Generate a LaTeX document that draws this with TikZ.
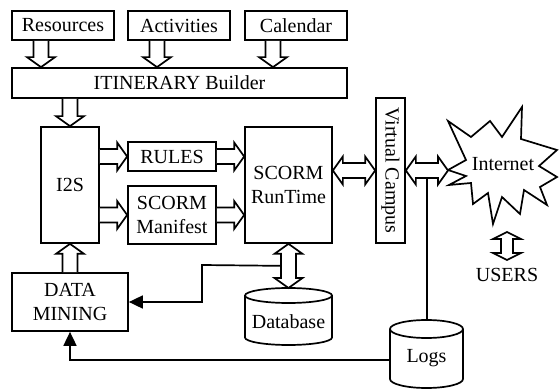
\documentclass[tikz,border=0pt]{standalone}
\usepackage{fontspec}
\setmainfont{Liberation Serif}
\usetikzlibrary{calc,arrows.meta}
\newcommand\fs{\fontsize{20pt}{24pt}\selectfont}
\def\sw{7.5pt}\def\hw{14pt}\def\hl{10pt}
\newcommand\sarrow[2]{%
  \coordinate (bah) at ($(#2)!\hl!(#1)$);
  \draw[blk] ($(#1)!\sw!90:(#2)$) -- ($(bah)!\sw!90:(#2)$) -- ($(bah)!\hw!90:(#2)$) -- (#2)
    -- ($(bah)!\hw!-90:(#2)$) -- ($(bah)!\sw!-90:(#2)$) -- ($(#1)!\sw!-90:(#2)$);
}
\newcommand\darrow[2]{%
  \coordinate (bah) at ($(#2)!\hl!(#1)$);
  \coordinate (bat) at ($(#1)!\hl!(#2)$);
  \draw[blk] (#1) -- ($(bat)!\hw!90:(#2)$) -- ($(bat)!\sw!90:(#2)$) -- ($(bah)!\sw!90:(#2)$)
    -- ($(bah)!\hw!90:(#2)$) -- (#2) -- ($(bah)!\hw!-90:(#2)$) -- ($(bah)!\sw!-90:(#2)$)
    -- ($(bat)!\sw!-90:(#2)$) -- ($(bat)!\hw!-90:(#2)$) -- cycle;
}
\tikzset{
  box/.style={draw, line width=1.7pt, inner sep=1pt, align=center, font=\fs},
  txt/.style={inner sep=1pt, font=\fs},
  blk/.style={draw, line width=1.7pt, fill=white, line join=miter},
  conn/.style={line width=1.7pt},
  tip/.style={-{Triangle[length=14pt,width=13pt]}},
}
\begin{document}
\begin{tikzpicture}[x=1pt,y=1pt]
\useasboundingbox (0,0) rectangle (559,391);
% starburst
\draw[blk] (448,270) -- (471,254) -- (490,270) -- (502,254) -- (522,284) -- (521,252)
  -- (557,241) -- (539,225) -- (557,214) -- (540,204) -- (547,186) -- (524,201)
  -- (520,177) -- (502,194) -- (493,167) -- (488,198) -- (473,187) -- (471,208)
  -- (449,206) -- (466,215) -- (448,221) -- (466,231) -- cycle;
% nodes
\node[box, minimum width=102pt, minimum height=29pt] (res) at (63,365.5) {Resources};
\node[box, minimum width=102pt, minimum height=29pt] (act) at (179,365.5) {Activities};
\node[box, minimum width=102pt, minimum height=29pt] (cal) at (296,365.5) {Calendar};
\node[box, minimum width=335pt, minimum height=30pt] (itin) at (179.5,308) {ITINERARY Builder};
\node[box, minimum width=58pt, minimum height=116pt] (i2s) at (70,206) {I2S};
\node[box, minimum width=88pt, minimum height=29pt] (rules) at (172,234.5) {RULES};
\node[box, minimum width=88pt, minimum height=58pt] (man) at (172,176) {SCORM\\Manifest};
\node[box, minimum width=87pt, minimum height=116pt] (srt) at (288.5,206) {SCORM\\RunTime};
\node[box, rotate=-90, minimum width=145pt, minimum height=29pt] (vc) at (390.5,220.5) {Virtual Campus};
\node[box, minimum width=116pt, minimum height=58pt] (dm) at (70,89) {DATA\\MINING};
\node[txt] (db) at (288.5,69) {Database};
\node[txt] (logs) at (426.5,33) {Logs};
\node[txt] (inet) at (503,227) {Internet};
\node[txt] (users) at (507,116) {USERS};
% cylinders
\draw[conn] ($(db)+(-43.5,26.5)$) -- ($(db)+(-43.5,-15.5)$)
  arc[start angle=180,end angle=360,x radius=43.5,y radius=7.5]
  -- ($(db)+(43.5,26.5)$) arc[start angle=0,end angle=360,x radius=43.5,y radius=7.5];
\draw[conn] ($(logs)+(-36.5,29)$) -- ($(logs)+(-36.5,-21)$)
  arc[start angle=180,end angle=360,x radius=36.5,y radius=9]
  -- ($(logs)+(36.5,29)$) arc[start angle=0,end angle=360,x radius=36.5,y radius=9];
% coordinates
\coordinate (dbtop) at ($(db)+(0,34)$);
\coordinate (logstop) at ($(logs)+(0,38)$);
\coordinate (logsL) at ($(logs)+(-36.5,-2)$);
\coordinate (inetL) at (448,220.5);
\coordinate (mid) at ($(vc.north)!0.5!(inetL)$);
\coordinate (tap2) at ($(mid)+(0,-7.5)$);
\coordinate (tap) at ($(srt.south)+(-7.5,-22)$);
\coordinate (bend) at (202,126);
% plain connectors
\draw[conn] (tap2) -- (tap2 |- logstop);
\draw[conn,tip] (tap) -- (bend) |- (dm.east);
\draw[conn,tip] (logsL) -| (dm.south);
% block arrows
\coordinate (a1) at ($(res.south)+(-22,0)$); \coordinate (a1e) at (a1 |- itin.north);
\coordinate (a2) at ($(act.south)+(-22,0)$); \coordinate (a2e) at (a2 |- itin.north);
\coordinate (a3) at ($(cal.south)+(-23,0)$); \coordinate (a3e) at (a3 |- itin.north);
\sarrow{a1}{a1e}
\sarrow{a2}{a2e}
\sarrow{a3}{a3e}
\coordinate (b1) at (i2s.north |- itin.south);
\sarrow{b1}{i2s.north}
\coordinate (c1) at (i2s.east |- rules.west);
\coordinate (c2) at (i2s.east |- man.west);
\coordinate (c3) at (srt.west |- rules.east);
\coordinate (c4) at (srt.west |- man.east);
\sarrow{c1}{rules.west}
\sarrow{c2}{man.west}
\sarrow{rules.east}{c3}
\sarrow{man.east}{c4}
\coordinate (d1) at (srt.east |- vc.south);
\darrow{d1}{vc.south}
\darrow{vc.north}{inetL}
\darrow{srt.south}{dbtop}
\sarrow{dm.north}{i2s.south}
\coordinate (u1) at ($(users)+(0,43)$);
\coordinate (u2) at ($(users)+(0,15)$);
{\def\sw{6pt}\def\hl{7pt}\darrow{u1}{u2}}
\end{tikzpicture}
\end{document}
